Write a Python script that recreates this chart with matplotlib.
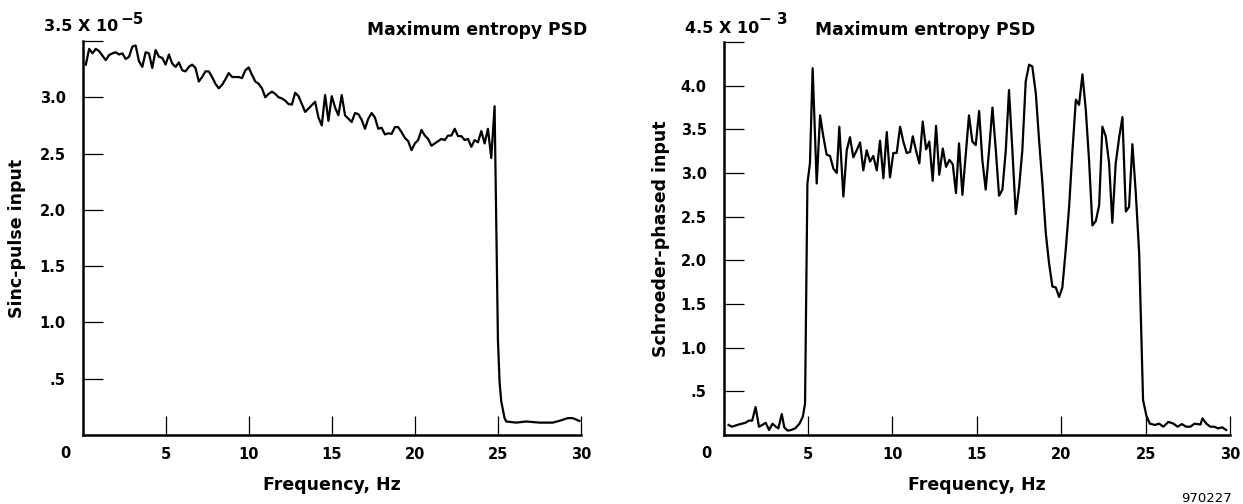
import matplotlib.pyplot as plt
from matplotlib.transforms import offset_copy

# sinc-pulse input PSD (units of 1e-5)
sinc_freq = [0.2, 0.4, 0.6, 0.8, 1.0, 1.2, 1.4, 1.6, 1.8, 2.0,
             2.2, 2.4, 2.6, 2.8, 3.0, 3.2, 3.4, 3.6, 3.8, 4.0,
             4.2, 4.4, 4.6, 4.8, 5.0, 5.2, 5.4, 5.6, 5.8, 6.0,
             6.2, 6.4, 6.6, 6.8, 7.0, 7.2, 7.4, 7.6, 7.8, 8.0,
             8.2, 8.4, 8.6, 8.8, 9.0, 9.2, 9.4, 9.6, 9.8, 10.0,
             10.2, 10.4, 10.6, 10.8, 11.0, 11.2, 11.4, 11.6, 11.8, 12.0,
             12.2, 12.4, 12.6, 12.8, 13.0, 13.2, 13.4, 13.6, 13.8, 14.0,
             14.2, 14.4, 14.6, 14.8, 15.0, 15.2, 15.4, 15.6, 15.8, 16.0,
             16.2, 16.4, 16.6, 16.8, 17.0, 17.2, 17.4, 17.6, 17.8, 18.0,
             18.2, 18.4, 18.6, 18.8, 19.0, 19.2, 19.4, 19.6, 19.8, 20.0,
             20.2, 20.4, 20.6, 20.8, 21.0, 21.2, 21.4, 21.6, 21.8, 22.0,
             22.2, 22.4, 22.6, 22.8, 23.0, 23.2, 23.4, 23.6, 23.8, 24.0,
             24.2, 24.4, 24.6, 24.8,
             25.0, 25.1, 25.2, 25.4, 25.5, 26.1, 26.7, 27.5, 28.3, 28.8, 29.2, 29.5, 29.9]
sinc_psd = [3.29, 3.43, 3.39, 3.43, 3.41, 3.37, 3.33, 3.375, 3.39, 3.40,
            3.38, 3.39, 3.34, 3.36, 3.45, 3.46, 3.32, 3.27, 3.40, 3.39,
            3.26, 3.42, 3.36, 3.35, 3.29, 3.38, 3.30, 3.27, 3.31, 3.24,
            3.23, 3.27, 3.29, 3.26, 3.14, 3.18, 3.23, 3.23, 3.18, 3.12,
            3.08, 3.11, 3.16, 3.215, 3.18, 3.18, 3.18, 3.17, 3.24, 3.265,
            3.20, 3.14, 3.12, 3.08, 3.00, 3.03, 3.05, 3.03, 3.00, 2.99,
            2.97, 2.94, 2.935, 3.04, 3.01, 2.94, 2.87, 2.90, 2.93, 2.96,
            2.82, 2.75, 3.02, 2.79, 3.01, 2.91, 2.84, 3.02, 2.84, 2.81,
            2.78, 2.86, 2.85, 2.80, 2.72, 2.81, 2.86, 2.82, 2.72, 2.73,
            2.67, 2.68, 2.675, 2.735, 2.735, 2.69, 2.64, 2.61, 2.53, 2.59,
            2.62, 2.71, 2.66, 2.63, 2.57, 2.59, 2.61, 2.63, 2.62, 2.66,
            2.66, 2.72, 2.655, 2.655, 2.62, 2.63, 2.56, 2.62, 2.60, 2.70,
            2.59, 2.72, 2.46, 2.92,
            0.85, 0.47, 0.30, 0.15, 0.12, 0.11, 0.12, 0.11, 0.11, 0.13, 0.15, 0.15, 0.125]

# Schroeder-phased input PSD (units of 1e-3)
schr_freq = [0.3, 0.5, 0.9, 1.3, 1.5, 1.7, 1.9, 2.1, 2.3, 2.5,
             2.7, 2.9, 3.1, 3.25, 3.45, 3.6, 3.8, 4.0, 4.25, 4.5,
             4.7, 4.83, 4.97, 5.12, 5.28, 5.52, 5.72, 5.91, 6.11, 6.31,
             6.51, 6.71, 6.86, 7.10, 7.30, 7.49, 7.69, 7.89, 8.09, 8.28,
             8.48, 8.68, 8.87, 9.08, 9.27, 9.47, 9.67, 9.86, 10.06, 10.26,
             10.46, 10.65, 10.85, 11.05, 11.21, 11.40, 11.60, 11.80, 12.0, 12.19,
             12.39, 12.59, 12.78, 12.99, 13.18, 13.38, 13.58, 13.77, 13.95, 14.15,
             14.54, 14.74, 14.94, 15.14, 15.33, 15.53, 15.73, 15.93, 16.13, 16.32,
             16.52, 16.72, 16.91, 17.11, 17.31, 17.51, 17.70, 17.90, 18.10, 18.29,
             18.50, 18.69, 18.89, 19.09, 19.28, 19.48, 19.68, 19.88, 20.07, 20.27,
             20.47, 20.66, 20.87, 21.06, 21.26, 21.46, 21.65, 21.85, 22.05, 22.25,
             22.44, 22.64, 22.84, 23.03, 23.23, 23.43, 23.63, 23.83, 24.02, 24.22,
             24.42, 24.62, 24.85, 25.05, 25.25, 25.55, 25.8, 26.05, 26.35, 26.65,
             26.9, 27.15, 27.4, 27.65, 27.9, 28.25, 28.37, 28.6, 28.83, 29.07,
             29.3, 29.54, 29.77]
schr_psd = [0.115, 0.095, 0.12, 0.14, 0.165, 0.165, 0.32, 0.095, 0.115, 0.14,
            0.057, 0.13, 0.095, 0.076, 0.24, 0.088, 0.05, 0.057, 0.076, 0.13,
            0.21, 0.36, 2.88, 3.11, 4.20, 2.88, 3.66, 3.42, 3.21, 3.195,
            3.05, 3.00, 3.53, 2.73, 3.26, 3.41, 3.18, 3.26, 3.35, 3.03,
            3.26, 3.13, 3.195, 3.03, 3.37, 2.94, 3.47, 2.95, 3.23, 3.23,
            3.53, 3.36, 3.23, 3.24, 3.42, 3.26, 3.11, 3.59, 3.27, 3.36,
            2.91, 3.54, 2.98, 3.28, 3.07, 3.15, 3.10, 2.77, 3.34, 2.75,
            3.66, 3.36, 3.32, 3.71, 3.15, 2.81, 3.26, 3.75, 3.26, 2.74,
            2.81, 3.26, 3.95, 3.26, 2.53, 2.84, 3.26, 4.05, 4.24, 4.22,
            3.91, 3.38, 2.88, 2.31, 1.97, 1.70, 1.69, 1.58, 1.69, 2.12,
            2.61, 3.23, 3.84, 3.78, 4.13, 3.72, 3.15, 2.40, 2.45, 2.63,
            3.53, 3.42, 3.11, 2.43, 3.11, 3.40, 3.64, 2.56, 2.61, 3.33,
            2.77, 2.08, 0.40, 0.22, 0.13, 0.115, 0.13, 0.095, 0.15, 0.13,
            0.095, 0.125, 0.095, 0.095, 0.13, 0.12, 0.19, 0.13, 0.095, 0.095,
            0.076, 0.088, 0.057]

x_ticks = [5, 10, 15, 20, 25, 30]
sinc_yticks = [0.5, 1.0, 1.5, 2.0, 2.5, 3.0, 3.5]
sinc_ylabels = ['.5', '1.0', '1.5', '2.0', '2.5', '3.0', '']
schr_yticks = [0.5, 1.0, 1.5, 2.0, 2.5, 3.0, 3.5, 4.0, 4.5]
schr_ylabels = ['.5', '1.0', '1.5', '2.0', '2.5', '3.0', '3.5', '4.0', '']

W, H = 1243, 504
fig = plt.figure(figsize=(W / 100, H / 100), dpi=100)
ax1 = fig.add_axes([82.5 / W, (H - 435) / H, 498.5 / W, 394 / H])
ax2 = fig.add_axes([723.5 / W, (H - 435) / H, 506.5 / W, 393 / H])


def style(ax, ymax, yticks, ylabels, ylabel, ylab_x):
    ax.set_xlim(0, 30)
    ax.set_ylim(0, ymax)
    ax.spines['top'].set_visible(False)
    ax.spines['right'].set_visible(False)
    ax.spines['left'].set_linewidth(1.8)
    ax.spines['bottom'].set_linewidth(1.8)
    ax.set_xticks(x_ticks)
    ax.set_xticklabels([str(t) for t in x_ticks], fontsize=10.5, fontweight='bold')
    ax.set_yticks(yticks)
    ax.set_yticklabels(ylabels, fontsize=10.5, fontweight='bold')
    ax.tick_params(axis='x', direction='in', length=13.7, width=0.9, pad=8.5)
    ax.tick_params(axis='y', direction='in', length=14.4, width=0.9, pad=12)
    ax.set_xlabel('Frequency, Hz', fontsize=12.5, fontweight='bold')
    ax.xaxis.set_label_coords(0.5, -0.105)
    ax.set_ylabel(ylabel, fontsize=12.5, fontweight='bold')
    ax.yaxis.set_label_coords(ylab_x, 0.5)
    ax.text(0, 0, '0', transform=offset_copy(ax.transData, fig=fig, x=-17.5, y=-19, units='dots'),
            ha='center', va='center', fontsize=10.5, fontweight='bold')


ax1.plot(sinc_freq, sinc_psd, color='black', lw=1.6)
style(ax1, 3.5, sinc_yticks, sinc_ylabels, 'Sinc-pulse input', -0.113)
ax2.plot(schr_freq, schr_psd, color='black', lw=1.6)
style(ax2, 4.5, schr_yticks, schr_ylabels, 'Schroeder-phased input', -0.106)


def px(x, y):
    return x / W, 1 - y / H


fig.text(*px(44, 31), '3.5 X 10', fontsize=11.5, fontweight='bold', va='baseline')
fig.text(*px(120, 24), '\u22125', fontsize=11, fontweight='bold', va='baseline')
fig.text(*px(587, 35), 'Maximum entropy PSD', fontsize=12.3, fontweight='bold', ha='right', va='baseline')

fig.text(*px(685, 33), '4.5 X 10', fontsize=11.5, fontweight='bold', va='baseline')
fig.text(*px(759, 24), '\u2212 3', fontsize=11, fontweight='bold', va='baseline')
fig.text(*px(815, 35), 'Maximum entropy PSD', fontsize=12.3, fontweight='bold', ha='left', va='baseline')

fig.text(*px(1232, 502), '970227', fontsize=9.5, ha='right', va='baseline')

fig.savefig('out.png', dpi=100)
